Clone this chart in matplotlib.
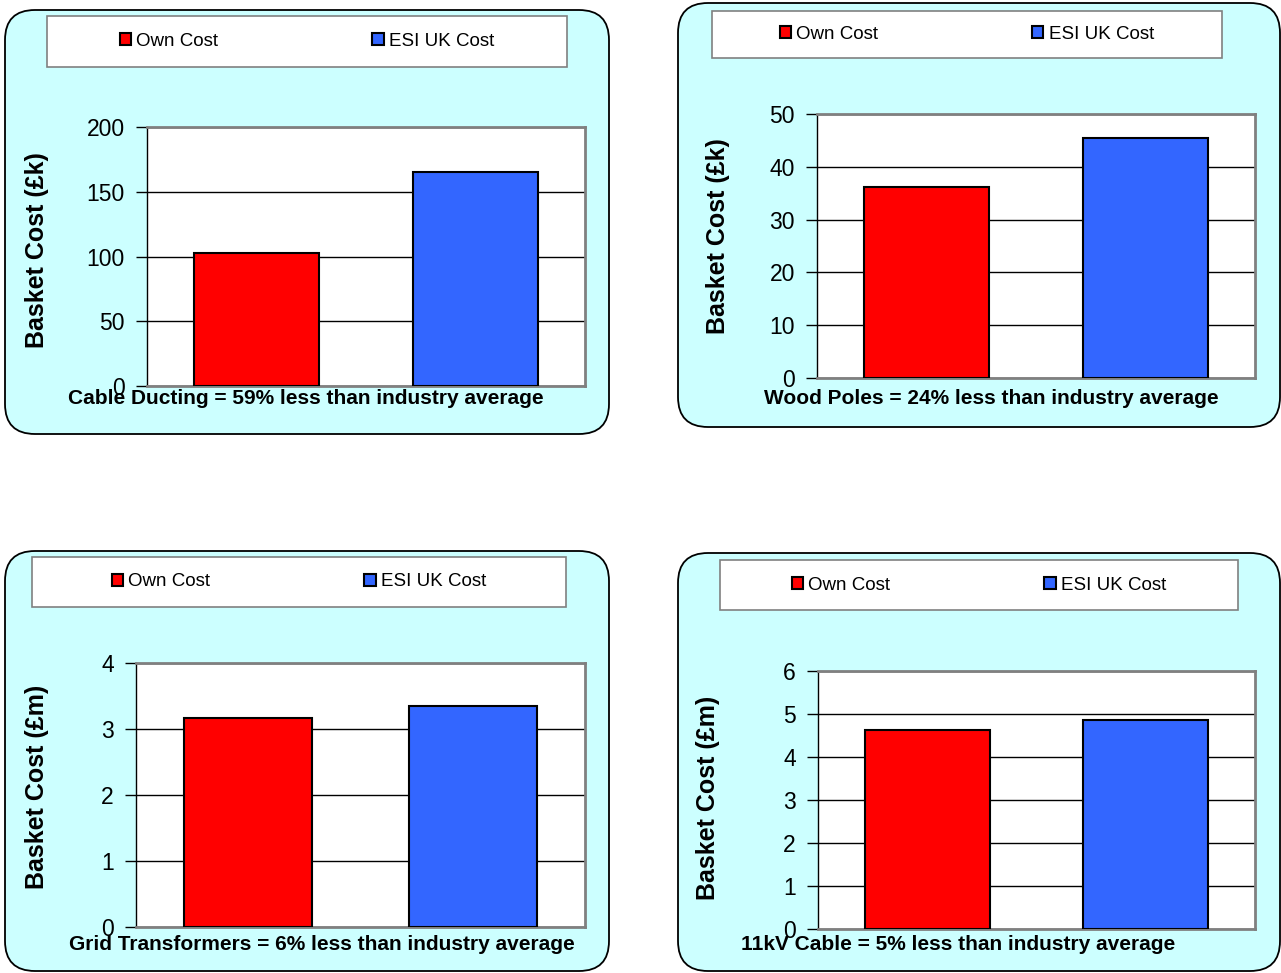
import matplotlib
matplotlib.use('Agg')
import matplotlib.pyplot as plt
from matplotlib.patches import FancyBboxPatch, Rectangle

plt.rcParams['font.family'] = ['Liberation Sans', 'DejaVu Sans']

# data
series = ['Own Cost', 'ESI UK Cost']
own_cost = [103, 36.1, 3.17, 4.63]
esi_cost = [165, 45.4, 3.35, 4.86]
captions = ['Cable Ducting = 59% less than industry average',
            'Wood Poles = 24% less than industry average',
            'Grid Transformers = 6% less than industry average',
            '11kV Cable = 5% less than industry average']
ylabels = ['Basket Cost (£k)', 'Basket Cost (£k)', 'Basket Cost (£m)', 'Basket Cost (£m)']
ymax = [200, 50, 4, 6]
ystep = [50, 10, 1, 1]

colors = ['#FF0000', '#3366FF']
bg = '#CCFFFF'

W, H = 1281, 973

# layout in pixels: panel box, legend box, plot area, caption centre, ylabel anchor
panel_box = [(5, 10, 609, 434), (678, 3, 1280, 427), (5, 551, 609, 971), (678, 553, 1280, 971)]
legend_box = [(47, 16, 567, 67), (712, 11, 1222, 58), (32, 557, 566, 607), (720, 560, 1238, 610)]
plot_box = [(147, 127, 585, 386), (817, 114, 1255, 378), (136, 663, 585, 927), (818, 671, 1255, 929)]
caption_pos = [(306, 399), (991, 399), (322, 944), (958, 944)]
ylabel_pos = [(49, 250), (730, 236), (49, 787), (720, 798)]

fig = plt.figure(figsize=(W / 100, H / 100), dpi=100)


def inch_box(x0, y0, x1, y1):
    return x0 / 100, (H - y1) / 100, (x1 - x0) / 100, (y1 - y0) / 100


for i in range(4):
    x, y, w, h = inch_box(*panel_box[i])
    fig.add_artist(FancyBboxPatch((x, y), w, h, boxstyle='round,pad=0,rounding_size=0.3',
                                  transform=fig.dpi_scale_trans, fc=bg, ec='black',
                                  lw=1.3, zorder=-3))
    x, y, w, h = inch_box(*legend_box[i])
    fig.add_artist(Rectangle((x, y), w, h, transform=fig.dpi_scale_trans, fc='white',
                             ec='#808080', lw=1.2, zorder=-2))

    l, t, r, b = plot_box[i]
    ax = fig.add_axes([l / W, 1 - b / H, (r - l) / W, (b - t) / H])
    ax.set_facecolor('white')
    ax.bar(0, own_cost[i], width=0.57, color=colors[0], edgecolor='black', lw=1.5,
           label=series[0], zorder=3)
    ax.bar(1, esi_cost[i], width=0.57, color=colors[1], edgecolor='black', lw=1.5,
           label=series[1], zorder=3)
    ax.set_xlim(-0.5, 1.5)
    ax.set_ylim(0, ymax[i])
    ax.set_yticks(range(0, ymax[i] + 1, ystep[i]))
    ax.set_xticks([])
    ax.yaxis.grid(True, color='black', lw=1)
    ax.set_axisbelow(True)
    for side in ['top', 'right', 'bottom']:
        ax.spines[side].set_color('#808080')
        ax.spines[side].set_linewidth(2)
    ax.spines['left'].set_color('black')
    ax.spines['left'].set_linewidth(1)
    ax.tick_params(axis='y', direction='out', length=8, width=1, pad=8, labelsize=16.5)

    ax.set_ylabel(ylabels[i], fontsize=18, fontweight='bold')
    ax.yaxis.set_label_coords(ylabel_pos[i][0] / W, 1 - ylabel_pos[i][1] / H,
                              transform=fig.transFigure)

    cx, cy = caption_pos[i]
    fig.text(cx / W, 1 - cy / H, captions[i], ha='center', va='center',
             fontsize=15, fontweight='bold')

    lx0, ly0, lx1, ly1 = legend_box[i]
    ax.legend(loc='center', bbox_to_anchor=((lx0 + lx1) / 2 / W, 1 - (ly0 + ly1) / 2 / H),
              bbox_transform=fig.transFigure, ncol=2, frameon=False, fontsize=13.5,
              handlelength=0.6, handleheight=0.6, handletextpad=0.3, columnspacing=8.2)

fig.savefig('out.png', dpi=100)
